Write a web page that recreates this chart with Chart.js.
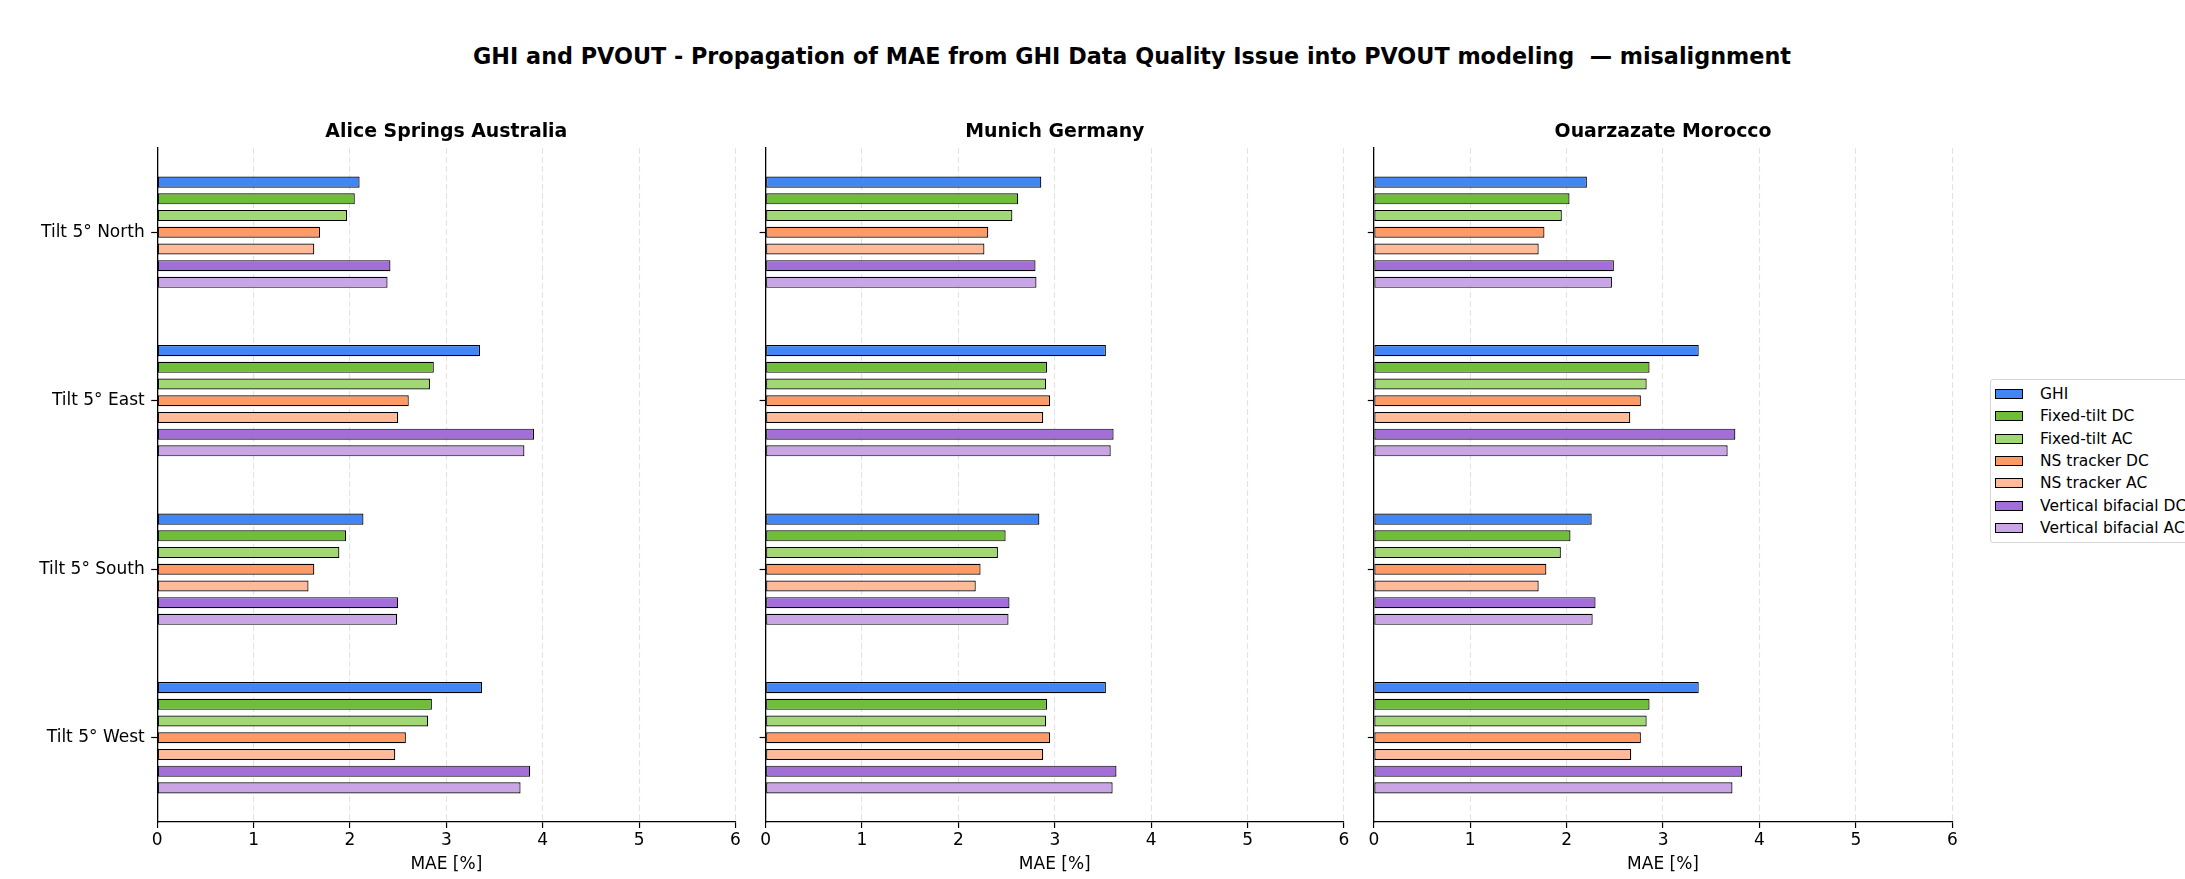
<!DOCTYPE html>
<html>
<head>
<meta charset="utf-8">
<script src="https://cdn.jsdelivr.net/npm/chart.js@4.4.1/dist/chart.umd.min.js"></script>
<style>
  html, body { margin: 0; padding: 0; background: #fff; }
  body { width: 2185px; height: 879px; position: relative; overflow: hidden; font-family: "DejaVu Sans", sans-serif; }
  #suptitle { position: absolute; left: 1132px; top: 45.1px; transform: translateX(-50%); white-space: pre;
              font: bold 22.3px "DejaVu Sans"; line-height: 22.3px; color: #000; }
  canvas { position: absolute; top: 100px; }
  #legend { position: absolute; left: 1990px; top: 379px; width: 220px; border: 1px solid #d4d4d4; border-radius: 3px;
            padding: 2.8px 0 2.8px 4px; background: #fff; box-sizing: content-box; }
  .item { height: 22.33px; line-height: 22.33px; font: 15.5px "DejaVu Sans"; white-space: nowrap; color: #000; display: flex; align-items: center; }
  .sw { display: inline-block; width: 28px; height: 10px; border: 1.2px solid #000; box-sizing: border-box; margin-right: 17px; flex: none; }
</style>
</head>
<body>
<div id="suptitle"></div>
<canvas id="c0" width="756" height="779"></canvas>
<canvas id="c1" width="629" height="779"></canvas>
<canvas id="c2" width="630" height="779"></canvas>
<div id="legend"></div>
<script>
// ---- data ----
const chartTitle = 'GHI and PVOUT - Propagation of MAE from GHI Data Quality Issue into PVOUT modeling  \u2014 misalignment';
const categories = ['Tilt 5° North', 'Tilt 5° East', 'Tilt 5° South', 'Tilt 5° West'];
const seriesNames = ['GHI', 'Fixed-tilt DC', 'Fixed-tilt AC', 'NS tracker DC', 'NS tracker AC', 'Vertical bifacial DC', 'Vertical bifacial AC'];
const seriesColors = ['#4285f4', '#70bd3a', '#a1d873', '#ff9a66', '#ffba9a', '#a36ed8', '#c9a5e6'];
const siteNames = ['Alice Springs Australia', 'Munich Germany', 'Ouarzazate Morocco'];
const xTickValues = [0, 1, 2, 3, 4, 5, 6];
const xAxisLabel = 'MAE [%]';

// rows: series (same order as seriesNames); columns: categories
const aliceSprings = [
  [2.10, 3.35, 2.14, 3.37],
  [2.05, 2.87, 1.96, 2.85],
  [1.97, 2.83, 1.89, 2.81],
  [1.69, 2.61, 1.63, 2.58],
  [1.63, 2.50, 1.57, 2.47],
  [2.42, 3.91, 2.50, 3.87],
  [2.39, 3.81, 2.49, 3.77]
];
const munich = [
  [2.86, 3.53, 2.84, 3.53],
  [2.62, 2.92, 2.49, 2.92],
  [2.56, 2.91, 2.41, 2.91],
  [2.31, 2.95, 2.23, 2.95],
  [2.27, 2.88, 2.18, 2.88],
  [2.80, 3.61, 2.53, 3.64],
  [2.81, 3.58, 2.52, 3.60]
];
const ouarzazate = [
  [2.21, 3.37, 2.26, 3.37],
  [2.03, 2.86, 2.04, 2.86],
  [1.95, 2.83, 1.94, 2.83],
  [1.77, 2.77, 1.79, 2.77],
  [1.71, 2.66, 1.71, 2.67],
  [2.49, 3.75, 2.30, 3.82],
  [2.47, 3.67, 2.27, 3.72]
];
const siteData = [aliceSprings, munich, ouarzazate];

// ---- layout (pixel geometry) ----
const panels = [
  { canvasLeft: 0,    plotLeft: 157.2,  plotRight: 735.5 },
  { canvasLeft: 735,  plotLeft: 765.6,  plotRight: 1344.0 },
  { canvasLeft: 1343, plotLeft: 1373.8, plotRight: 1952.3 }
];

Chart.defaults.font.family = '"DejaVu Sans"';
Chart.defaults.color = '#000';

document.getElementById('suptitle').textContent = chartTitle;

const legend = document.getElementById('legend');
seriesNames.forEach((n, i) => {
  const d = document.createElement('div');
  d.className = 'item';
  const s = document.createElement('span');
  s.className = 'sw';
  s.style.background = seriesColors[i];
  d.appendChild(s);
  d.appendChild(document.createTextNode(n));
  legend.appendChild(d);
});

panels.forEach((p, k) => {
  const cv = document.getElementById('c' + k);
  cv.style.left = p.canvasLeft + 'px';
  const yWidth = p.plotLeft - p.canvasLeft;
  const rightPad = cv.width - (p.plotRight - p.canvasLeft);
  const data = siteData[k];
  new Chart(cv, {
    type: 'bar',
    data: {
      labels: categories,
      datasets: seriesNames.map((n, i) => ({
        label: n,
        data: data[i],
        backgroundColor: seriesColors[i],
        borderColor: '#000',
        borderWidth: 1.2,
        borderSkipped: false,
        categoryPercentage: 0.694,
        barPercentage: 0.66
      }))
    },
    options: {
      indexAxis: 'y',
      responsive: false,
      animation: false,
      devicePixelRatio: 1,
      layout: { padding: { left: 0, right: rightPad, top: 0, bottom: 0 } },
      plugins: {
        legend: { display: false },
        tooltip: { enabled: false },
        title: {
          display: true,
          fullSize: false,
          text: siteNames[k],
          color: '#000',
          font: { size: 18.9, weight: 'bold', family: '"DejaVu Sans"' },
          padding: { top: 20.5, bottom: 4.8 }
        }
      },
      scales: {
        x: {
          type: 'linear',
          min: 0, max: 6,
          afterBuildTicks: (s) => { s.ticks = xTickValues.map(v => ({ value: v })); },
          ticks: { font: { size: 17 }, color: '#000', padding: 2.8 },
          grid: { display: true, color: '#e3e3e3', lineWidth: 1.1, drawTicks: true, tickLength: 6, tickColor: '#000', tickWidth: 1.2 },
          border: { display: true, color: '#000', width: 1.3, dash: [6, 3] },
          title: { display: true, text: xAxisLabel, color: '#000', font: { size: 17 }, padding: { top: 0, bottom: 3.8 } },
          afterFit: (s) => { s.height = 57; }
        },
        y: {
          type: 'category',
          offset: true,
          ticks: {
            font: { size: 17 }, color: '#000', padding: 6.5,
            callback: function (v, i) { return k === 0 ? this.getLabelForValue(v) : ''; }
          },
          grid: { display: true, drawOnChartArea: false, drawTicks: true, offset: false, tickLength: 6, tickColor: '#000', tickWidth: 1.2 },
          border: { display: true, color: '#000', width: 1.3 },
          afterFit: (s) => { s.width = yWidth; }
        }
      }
    }
  });
});
</script>
</body>
</html>
